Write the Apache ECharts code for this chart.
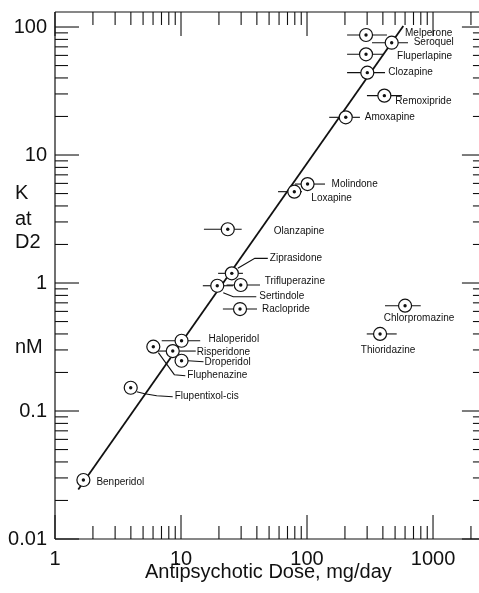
<!DOCTYPE html>
<html><head><meta charset="utf-8">
<script src="https://cdn.jsdelivr.net/npm/echarts@6/dist/echarts.min.js"></script>
<style>html,body{margin:0;padding:0;background:#fff}#c{width:479px;height:593px}</style>
</head><body><div id="c"></div>
<script>
// ---- data ----
const drugs = ['Melperone','Seroquel','Fluperlapine','Clozapine','Remoxipride','Amoxapine','Molindone','Loxapine','Olanzapine','Ziprasidone','Trifluperazine','Sertindole','Raclopride','Chlorpromazine','Thioridazine','Haloperidol','Risperidone','Fluphenazine','Droperidol','Flupentixol-cis','Benperidol'];
const doseMgDay = [294,470,294,301,411,203,101,79.3,23.5,25.3,29.8,19.4,29.4,600,380,10.1,8.6,6.03,10.1,3.99,1.68];
const kD2nM = [86.6,75.4,61.2,44,29.1,19.7,5.93,5.17,2.63,1.19,0.965,0.952,0.626,0.665,0.40,0.354,0.294,0.318,0.247,0.152,0.0289];
const doseLow = [208,328,208,208,299,150,80.3,58.9,15.2,19.7,23.0,14.9,21.5,416,298,7.03,6.6,null,null,null,null];
const doseHigh = [431,633,401,416,567,263,139,91.3,30.3,31.0,42.4,25.9,40.1,799,515,14.2,8.6,null,null,null,null];
const fitDose = [1.53, 581];
const fitK = [0.0244, 102];
const xTickValues = [1,10,100,1000];
const xTickLabels = ['1','10','100','1000'];
const yTickValues = [0.01,0.1,1,10,100];
const yTickLabels = ['0.01','0.1','1','10','100'];
const xMinorTicks = [2,3,4,5,6,7,8,9,20,30,40,50,60,70,80,90,200,300,400,500,600,700,800,900,2000];
const yMinorTicks = [0.02,0.03,0.04,0.05,0.06,0.07,0.08,0.09,0.2,0.3,0.4,0.5,0.6,0.7,0.8,0.9,2,3,4,5,6,7,8,9,20,30,40,50,60,70,80,90];
const xFrameEnd = 2630; // right frame of the plot lies just past the picture edge

// ---- label placement (pixel offsets from marker centre) ----
const labelPlacement = {
  'Melperone':{dx:39,dy:-2},
  'Seroquel':{dx:22,dy:0},
  'Fluperlapine':{dx:31,dy:2},
  'Clozapine':{dx:21,dy:0},
  'Remoxipride':{dx:11,dy:6},
  'Amoxapine':{dx:19,dy:0},
  'Molindone':{dx:24,dy:0},
  'Loxapine':{dx:17,dy:7},
  'Olanzapine':{dx:46,dy:2},
  'Ziprasidone':{dx:38,dy:-15,leader:[[6,-5],[23,-15],[36,-15]]},
  'Trifluperazine':{dx:24,dy:-4},
  'Sertindole':{dx:42,dy:11,leader:[[6,7],[16,11],[39,11]]},
  'Raclopride':{dx:22,dy:0},
  'Chlorpromazine':{dx:14,dy:13,align:'center'},
  'Thioridazine':{dx:8,dy:16,align:'center'},
  'Haloperidol':{dx:27,dy:-1},
  'Risperidone':{dx:24,dy:1,leader:[[6.5,0],[23,0]]},
  'Fluphenazine':{dx:34,dy:29,leader:[[5,6],[21,28],[32,29]]},
  'Droperidol':{dx:23,dy:2,leader:[[6.5,0],[22,1]]},
  'Flupentixol-cis':{dx:44,dy:9,leader:[[6,4],[14,6],[26,8],[42,9]]},
  'Benperidol':{dx:13,dy:2}
};

const FONT = '"Liberation Sans", Arial, Helvetica, sans-serif';
const X_MIN = 1, X_MAX = 2317, Y_MIN = 0.01, Y_MAX = 131;

const chart = echarts.init(document.getElementById('c'), null, {renderer:'canvas'});

function renderPoint(params, api) {
  const i = params.dataIndex;
  const x = doseMgDay[i], y = kD2nM[i];
  const c = api.coord([x, y]);
  const children = [];
  if (doseLow[i] != null) {
    const a = api.coord([doseLow[i], y]);
    const b = api.coord([doseHigh[i], y]);
    children.push({type:'line', shape:{x1:a[0],y1:a[1],x2:b[0],y2:b[1]}, style:{stroke:'#111',lineWidth:1.1}});
  }
  const lp = labelPlacement[drugs[i]] || {dx:12,dy:0};
  if (lp.leader) {
    children.push({type:'polyline', shape:{points:lp.leader.map(p=>[c[0]+p[0], c[1]+p[1]])}, style:{stroke:'#111',lineWidth:1.1,fill:null}});
  }
  children.push({type:'circle', shape:{cx:c[0],cy:c[1],r:6.5}, style:{fill:'#fff',stroke:'#111',lineWidth:1.2}});
  children.push({type:'circle', shape:{cx:c[0],cy:c[1],r:1.7}, style:{fill:'#111'}});
  children.push({type:'text', x:c[0]+lp.dx, y:c[1]+lp.dy, style:{text:drugs[i], fill:'#111', font:'10px '+FONT, align:lp.align||'left', verticalAlign:'middle'}});
  return {type:'group', children};
}

function renderAxes(params, api) {
  const cs = params.coordSys;
  const left = cs.x, top = cs.y, bottom = cs.y + cs.height;
  const right = api.coord([xFrameEnd, Y_MIN])[0];
  const ch = [];
  const st = {stroke:'#111', lineWidth:1.1};
  const MAJ = 24, MIN = 13;
  ch.push({type:'line', shape:{x1:left,y1:top,x2:left,y2:bottom}, style:{stroke:'#111',lineWidth:1.2}});
  ch.push({type:'line', shape:{x1:left,y1:top,x2:right,y2:top}, style:{stroke:'#111',lineWidth:1.2}});
  ch.push({type:'line', shape:{x1:left,y1:bottom,x2:right,y2:bottom}, style:{stroke:'#111',lineWidth:1.2}});
  ch.push({type:'line', shape:{x1:right,y1:top,x2:right,y2:bottom}, style:{stroke:'#111',lineWidth:1.2}});
  function xt(v, len) {
    const px = api.coord([v, Y_MIN])[0];
    ch.push({type:'line', shape:{x1:px,y1:bottom,x2:px,y2:bottom-len}, style:st});
    ch.push({type:'line', shape:{x1:px,y1:top,x2:px,y2:top+len}, style:st});
  }
  function yt(v, len) {
    const py = api.coord([X_MIN, v])[1];
    ch.push({type:'line', shape:{x1:left,y1:py,x2:left+len,y2:py}, style:st});
    ch.push({type:'line', shape:{x1:right,y1:py,x2:right-len,y2:py}, style:st});
  }
  xTickValues.forEach(v => xt(v, MAJ));
  xMinorTicks.forEach(v => xt(v, MIN));
  yTickValues.forEach(v => yt(v, MAJ));
  yMinorTicks.forEach(v => yt(v, MIN));
  xTickValues.forEach((v, k) => {
    const px = api.coord([v, Y_MIN])[0];
    ch.push({type:'text', x:px, y:bottom+20, style:{text:xTickLabels[k], fill:'#111', font:'20px '+FONT, align:'center', verticalAlign:'middle'}});
  });
  yTickValues.forEach((v, k) => {
    const py = api.coord([X_MIN, v])[1];
    ch.push({type:'text', x:left-8, y:py, style:{text:yTickLabels[k], fill:'#111', font:'20px '+FONT, align:'right', verticalAlign:'middle'}});
  });
  return {type:'group', children:ch};
}

const option = {
  animation:false,
  backgroundColor:'#fff',
  grid:{left:55, top:12, width:424, height:527, show:false},
  xAxis:{type:'log', logBase:10, min:X_MIN, max:X_MAX, axisLine:{show:false}, axisTick:{show:false}, axisLabel:{show:false}, splitLine:{show:false}},
  yAxis:{type:'log', logBase:10, min:Y_MIN, max:Y_MAX, axisLine:{show:false}, axisTick:{show:false}, axisLabel:{show:false}, splitLine:{show:false}},
  graphic:[
    {type:'text', left:15, top:183, style:{text:'K', fill:'#111', font:'20px '+FONT}},
    {type:'text', left:15, top:209, style:{text:'at', fill:'#111', font:'20px '+FONT}},
    {type:'text', left:15, top:232, style:{text:'D2', fill:'#111', font:'20px '+FONT}},
    {type:'text', left:15, top:337, style:{text:'nM', fill:'#111', font:'20px '+FONT}},
    {type:'text', left:145, top:562, style:{text:'Antipsychotic Dose, mg/day', fill:'#111', font:'20px '+FONT}}
  ],
  series:[
    {type:'custom', name:'axes', data:[[X_MIN, Y_MIN]], renderItem:renderAxes, silent:true, clip:false, z:1},
    {type:'line', name:'fit', data:fitDose.map((d,k)=>[d, fitK[k]]), showSymbol:false, symbol:'none', lineStyle:{color:'#111', width:1.8}, z:2},
    {type:'custom', name:'drugs', data:drugs.map((d,i)=>[doseMgDay[i], kD2nM[i]]), renderItem:renderPoint, clip:false, z:3}
  ]
};
chart.setOption(option);
</script>
</body></html>
